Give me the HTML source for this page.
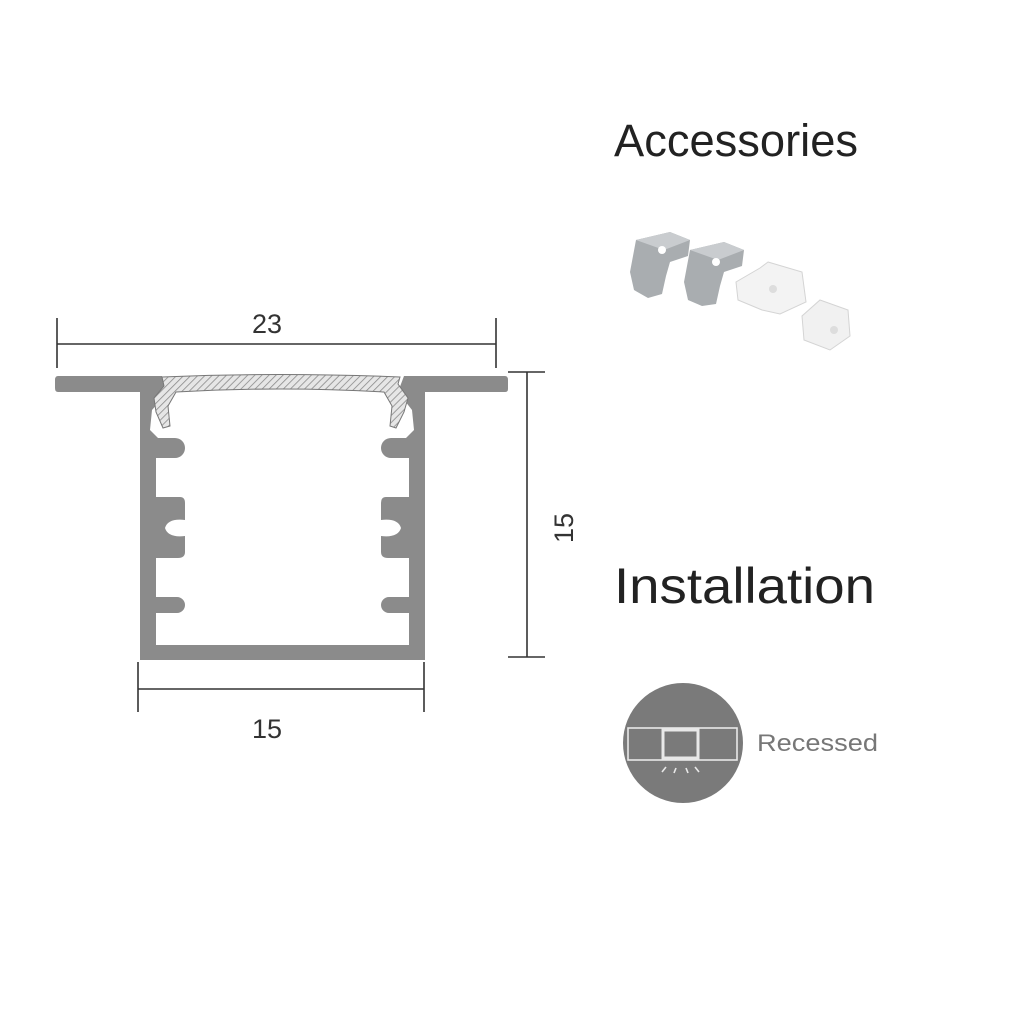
<!DOCTYPE html>
<html><head><meta charset="utf-8"><style>
html,body{margin:0;padding:0;background:#fff;width:1024px;height:1024px;overflow:hidden}
svg{display:block}
</style></head><body>
<svg width="1024" height="1024" viewBox="0 0 1024 1024" xmlns="http://www.w3.org/2000/svg">
<defs>
<pattern id="hatch" width="5" height="5" patternUnits="userSpaceOnUse" patternTransform="rotate(45)">
<rect width="5" height="5" fill="#e6e6e6"/><line x1="0" y1="0" x2="0" y2="5" stroke="#8a8a8a" stroke-width="1.6"/>
</pattern>
</defs>
<g fill="#8b8b8b">
<path d="M58 376 H162 L168 392 L152 410 L150 430 L158 438 H175 A10 10 0 0 1 175 458 H156 V497 H180 Q185 497 185 503 V520 Q168 518 165 528 Q168 538 185 536 V552 Q185 558 178 558 H156 V597 H177 A8 8 0 0 1 177 613 H156 V645 H409 V613 H389 A8 8 0 0 1 389 597 H409 V558 H388 Q381 558 381 552 V536 Q398 538 401 528 Q398 518 381 520 V503 Q381 497 386 497 H409 V458 H391 A10 10 0 0 1 391 438 H406 L414 430 L412 410 L398 392 L404 376 H505 Q508 376 508 380 V389 Q508 392 505 392 H425 V660 H140 V392 H58 Q55 392 55 388 V380 Q55 376 58 376 Z"/>
</g>
<path d="M162 377 Q280 372 400 377 L398 384 L408 398 L404 412 L396 428 L390 426 L392 406 L384 392 Q280 386 176 392 L168 406 L170 426 L163 428 L156 412 L154 398 L164 386 Z" fill="url(#hatch)" stroke="#777" stroke-width="1"/>
<g stroke="#333" stroke-width="1.6" fill="none">
<line x1="57" y1="344" x2="496" y2="344"/>
<line x1="57" y1="318" x2="57" y2="368"/>
<line x1="496" y1="318" x2="496" y2="368"/>
<line x1="527" y1="372" x2="527" y2="657"/>
<line x1="508" y1="372" x2="545" y2="372"/>
<line x1="508" y1="657" x2="545" y2="657"/>
<line x1="138" y1="689" x2="424" y2="689"/>
<line x1="138" y1="662" x2="138" y2="712"/>
<line x1="424" y1="662" x2="424" y2="712"/>
</g>
<g font-family="Liberation Sans, sans-serif" font-size="27" fill="#333" text-anchor="middle">
<text x="267" y="333">23</text>
<text x="267" y="738">15</text>
<text x="0" y="0" transform="translate(573 528) rotate(-90)">15</text>
</g>
<text x="614" y="156" font-family="Liberation Sans, sans-serif" font-size="45" fill="#222" textLength="244" lengthAdjust="spacingAndGlyphs">Accessories</text>
<text x="614" y="603" font-family="Liberation Sans, sans-serif" font-size="50" fill="#222" textLength="261" lengthAdjust="spacingAndGlyphs">Installation</text>
<g>
<path d="M636 240 L670 232 L690 240 L688 256 L670 262 L666 276 L662 294 L648 298 L634 290 L630 272 Z" fill="#a9adb0"/>
<path d="M636 240 L670 232 L690 240 L664 250 Z" fill="#c9cccf"/>
<circle cx="662" cy="250" r="4" fill="#fff"/>
<path d="M690 250 L724 242 L744 250 L742 266 L724 272 L720 286 L716 304 L702 306 L688 300 L684 282 Z" fill="#a9adb0"/>
<path d="M690 250 L724 242 L744 250 L718 260 Z" fill="#c9cccf"/>
<circle cx="716" cy="262" r="4" fill="#fff"/>
<path d="M768 262 L802 272 L806 302 L780 314 L762 310 L738 300 L736 282 L760 268 Z" fill="#f3f3f3" stroke="#d4d4d4"/>
<circle cx="773" cy="289" r="4" fill="#ddd"/>
<path d="M820 300 L848 310 L850 336 L830 350 L804 340 L802 316 Z" fill="#f1f1f1" stroke="#d4d4d4"/>
<circle cx="834" cy="330" r="4" fill="#ddd"/>
</g>
<circle cx="683" cy="743" r="60" fill="#7a7a7a"/>
<g stroke="#e8e8e8" stroke-width="1.6" fill="none">
<rect x="628" y="728" width="109" height="32"/>
<rect x="663" y="730" width="35" height="28" stroke-width="3"/>
<line x1="662" y1="772" x2="666" y2="767"/><line x1="674" y1="773" x2="676" y2="768"/>
<line x1="688" y1="773" x2="686" y2="768"/><line x1="699" y1="772" x2="695" y2="767"/>
</g>
<text x="757" y="751" font-family="Liberation Sans, sans-serif" font-size="24" fill="#777" textLength="121" lengthAdjust="spacingAndGlyphs">Recessed</text>
</svg>
</body></html>
